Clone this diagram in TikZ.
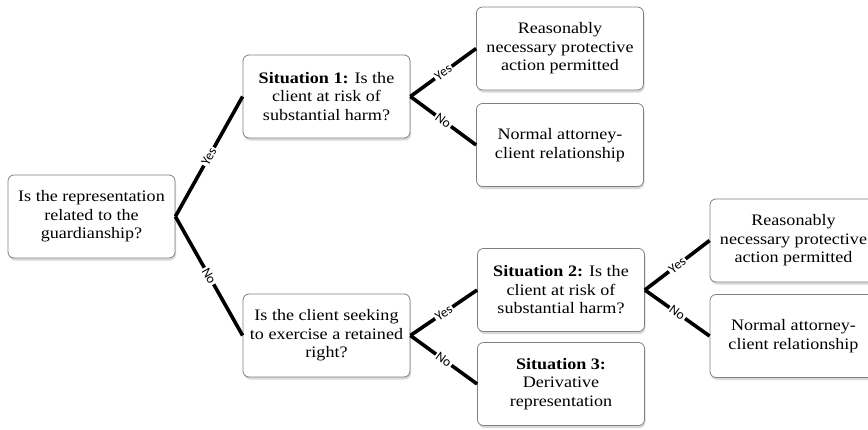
\documentclass[tikz,border=0pt]{standalone}
\usepackage{fontspec}
\setmainfont[FakeStretch=1.13]{Liberation Serif}
\newfontfamily\answerfont{Carlito}
\usepackage{xcolor}
\usetikzlibrary{positioning, shadows}
\definecolor{boxedge}{HTML}{808080}
\definecolor{ink}{HTML}{000000}
\tikzset{
  question/.style={draw=boxedge, line width=0.8pt, rounded corners=6pt, fill=white, align=center, font=\fontsize{16}{18.5}\selectfont, minimum width=167pt, minimum height=83pt, inner sep=2pt, drop shadow={opacity=0.3, shadow xshift=1pt, shadow yshift=-2.5pt}},
  outcome/.style={question},
  branch/.style={draw=ink, line width=3.6pt},
  answer/.style={sloped, fill=white, text=ink, font=\answerfont\fontsize{13.5}{14}\selectfont, inner sep=1.5pt},
}

\begin{document}
\begin{tikzpicture}[x=1pt, y=1pt]
  \useasboundingbox (0,0) rectangle (868,-429);
  % Decision tree: guardianship question splits into three situations.
  \node[question] (root) at (91.5,-216.5) {Is the representation\\related to the\\guardianship?};
  \node[question] (sit1) at (326.5,-96.5) {\textbf{Situation 1:} Is the\\client at risk of\\substantial harm?};
  \node[question] (retained) at (326.5,-335.5) {Is the client seeking\\to exercise a retained\\right?};
  \node[outcome] (protect1) at (560,-48.5) {Reasonably\\necessary protective\\action permitted};
  \node[outcome] (normal1) at (560,-145) {Normal attorney-\\client relationship};
  \node[question] (sit2) at (561,-290) {\textbf{Situation 2:} Is the\\client at risk of\\substantial harm?};
  \node[outcome] (sit3) at (561,-384) {\textbf{Situation 3:}\\Derivative\\representation};
  \node[outcome] (protect2) at (793.5,-240.5) {Reasonably\\necessary protective\\action permitted};
  \node[outcome] (normal2) at (793.5,-336) {Normal attorney-\\client relationship};

  \draw[branch] (root.east) -- node[answer] {Yes} (sit1.west);
  \draw[branch] (root.east) -- node[answer] {No} (retained.west);
  \draw[branch] (sit1.east) -- node[answer] {Yes} (protect1.west);
  \draw[branch] (sit1.east) -- node[answer] {No} (normal1.west);
  \draw[branch] (retained.east) -- node[answer] {Yes} (sit2.west);
  \draw[branch] (retained.east) -- node[answer] {No} (sit3.west);
  \draw[branch] (sit2.east) -- node[answer] {Yes} (protect2.west);
  \draw[branch] (sit2.east) -- node[answer] {No} (normal2.west);
\end{tikzpicture}
\end{document}
